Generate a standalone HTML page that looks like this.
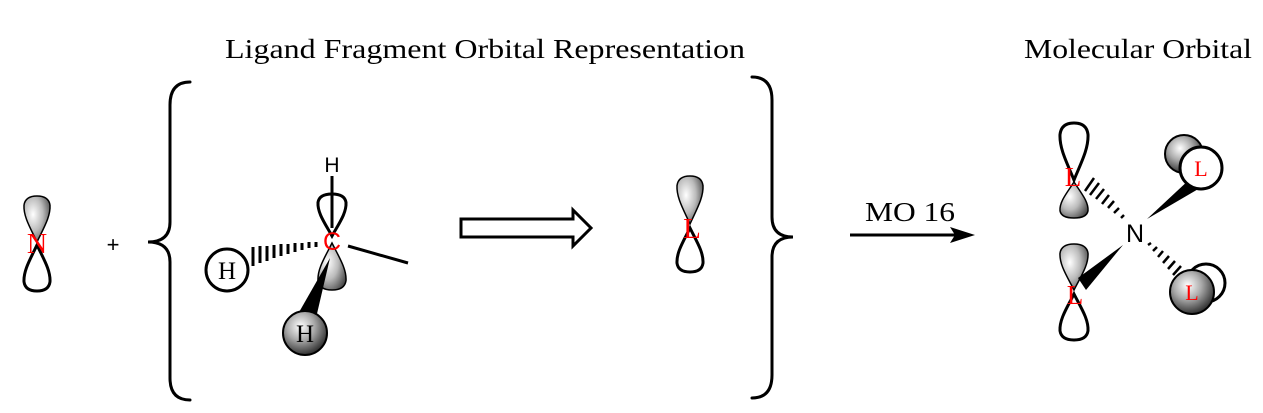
<!DOCTYPE html>
<html><head><meta charset="utf-8"><style>html,body{margin:0;padding:0;background:#fff}svg{display:block}</style></head>
<body>
<svg id="sv" width="1263" height="413" viewBox="0 0 1263 413" xmlns="http://www.w3.org/2000/svg">
<defs>
<radialGradient id="g" cx="0.35" cy="0.4" r="0.75">
<stop offset="0" stop-color="#fff"/><stop offset="0.5" stop-color="#bbb"/><stop offset="1" stop-color="#444"/>
</radialGradient>
<radialGradient id="s" cx="0.4" cy="0.35" r="0.7">
<stop offset="0" stop-color="#fff"/><stop offset="0.45" stop-color="#aaa"/><stop offset="1" stop-color="#222"/>
</radialGradient>
</defs>
<g font-family="Liberation Serif, serif" fill="#000">
<text x="225" y="58" font-size="27" textLength="520" lengthAdjust="spacingAndGlyphs">Ligand Fragment Orbital Representation</text>
<text x="1024" y="58" font-size="27" textLength="228" lengthAdjust="spacingAndGlyphs">Molecular Orbital</text>
<text x="865" y="221" font-size="27" textLength="90" lengthAdjust="spacingAndGlyphs">MO 16</text>
</g>
<g stroke="#000" stroke-width="3" fill="none" stroke-linecap="round">
<path d="M190,82 Q170,82 170,105 L170,222 Q170,242 148,242 Q170,242 170,262 L170,378 Q170,400 190,400"/>
<path d="M752,77 Q772,77 772,100 L772,217 Q772,237 793,237 Q772,237 772,257 L772,375 Q772,398 752,398"/>
</g>
<g id="lobes"></g>
<text x="37" y="253" font-family="Liberation Serif, serif" font-size="28" fill="red" text-anchor="middle">N</text>
<text x="113" y="252" font-family="Liberation Sans, sans-serif" font-size="22" text-anchor="middle">+</text>
<text x="332" y="172" font-family="Liberation Sans, sans-serif" font-size="21" text-anchor="middle">H</text>
<line x1="332" y1="176" x2="332" y2="228" stroke="#000" stroke-width="3"/>
<line x1="348" y1="246" x2="408" y2="263" stroke="#000" stroke-width="3"/>
<g stroke="#000" stroke-width="3">
<line x1="316" y1="242" x2="316" y2="247"/><line x1="309" y1="242" x2="309" y2="248"/><line x1="302" y1="243" x2="302" y2="250"/>
<line x1="295" y1="243" x2="295" y2="252"/><line x1="288" y1="244" x2="288" y2="254"/><line x1="281" y1="244" x2="281" y2="256"/>
<line x1="274" y1="245" x2="274" y2="258"/><line x1="267" y1="246" x2="267" y2="261"/><line x1="260" y1="246" x2="260" y2="263"/><line x1="253" y1="247" x2="253" y2="266"/>
</g>
<circle cx="227" cy="270" r="21" fill="#fff" stroke="#000" stroke-width="3"/>
<text x="227" y="279" font-family="Liberation Serif, serif" font-size="25" text-anchor="middle">H</text>
<polygon points="330,258 316,318 298,314" fill="#000"/>
<circle cx="305" cy="333" r="22" fill="url(#s)" stroke="#000" stroke-width="2"/>
<text x="305" y="342" font-family="Liberation Serif, serif" font-size="25" text-anchor="middle">H</text>
<text x="332" y="250" font-family="Liberation Sans, sans-serif" font-size="25" fill="red" text-anchor="middle">C</text>
<path d="M461,219 L573,219 L573,210 L591,228 L573,246 L573,237 L461,237Z" fill="#fff" stroke="#000" stroke-width="3"/>
<text x="692" y="238" font-family="Liberation Serif, serif" font-size="29" fill="red" text-anchor="middle">L</text>
<line x1="850" y1="235" x2="955" y2="235" stroke="#000" stroke-width="3"/>
<polygon points="975,235 950,227 955,235 950,243" fill="#000"/>
<text x="1135" y="242" font-family="Liberation Sans, sans-serif" font-size="25" text-anchor="middle">N</text>
<g stroke="#000" stroke-width="2.5">
<line x1="1121" y1="218" x2="1124" y2="215"/><line x1="1114" y1="213" x2="1119" y2="208"/><line x1="1108" y1="208" x2="1114" y2="201"/>
<line x1="1102" y1="204" x2="1109" y2="195"/><line x1="1096" y1="199" x2="1104" y2="189"/><line x1="1090" y1="195" x2="1099" y2="183"/><line x1="1085" y1="191" x2="1094" y2="178"/>
</g>
<text x="1073" y="186" font-family="Liberation Serif, serif" font-size="27" fill="red" text-anchor="middle">L</text>
<circle cx="1184" cy="154" r="19" fill="url(#s)" stroke="#000" stroke-width="2"/>
<polygon points="1147,219 1191,178 1200,188" fill="#000"/>
<circle cx="1201" cy="168" r="21" fill="#fff" stroke="#000" stroke-width="3"/>
<text x="1201" y="176" font-family="Liberation Serif, serif" font-size="22" fill="red" text-anchor="middle">L</text>
<circle cx="1206" cy="283" r="19" fill="#fff" stroke="#000" stroke-width="3"/>
<g stroke="#000" stroke-width="2.5">
<line x1="1148" y1="245" x2="1151" y2="243"/><line x1="1153" y1="251" x2="1157" y2="247"/><line x1="1158" y1="257" x2="1163" y2="251"/>
<line x1="1163" y1="263" x2="1169" y2="256"/><line x1="1168" y1="269" x2="1175" y2="261"/><line x1="1173" y1="275" x2="1181" y2="266"/>
</g>
<circle cx="1192" cy="292" r="22" fill="url(#s)" stroke="#000" stroke-width="2"/>
<text x="1192" y="300" font-family="Liberation Serif, serif" font-size="22" fill="red" text-anchor="middle">L</text>
<polygon points="1123,245 1078,278 1086,290" fill="#000"/>
<text x="1075" y="304" font-family="Liberation Serif, serif" font-size="27" fill="red" text-anchor="middle">L</text>
<script>
(function(){
var g=document.getElementById('lobes');
function lobe(x,y0,y1,hw,shaded){
 var d=y1-y0;
 var p='M'+x+','+y0+' C'+(x-hw*0.5)+','+(y0+0.3*d)+' '+(x-hw*1.05)+','+(y0+0.55*d)+' '+(x-hw)+','+(y0+0.8*d)+
 ' Q'+(x-hw*0.9)+','+y1+' '+x+','+y1+' Q'+(x+hw*0.9)+','+y1+' '+(x+hw)+','+(y0+0.8*d)+
 ' C'+(x+hw*1.05)+','+(y0+0.55*d)+' '+(x+hw*0.5)+','+(y0+0.3*d)+' '+x+','+y0+' Z';
 var e=document.createElementNS('http://www.w3.org/2000/svg','path');
 e.setAttribute('d',p);
 e.setAttribute('fill',shaded?'url(#g)':'none');
 e.setAttribute('stroke','#000');
 e.setAttribute('stroke-width',shaded?'1.5':'3');
 g.appendChild(e);
}
lobe(37,242,196,13,true); lobe(37,245,291,13,false);
lobe(332,236,194,14,false); lobe(332,243,290,14,true);
lobe(690,224,176,13,true); lobe(690,228,272,13,false);
lobe(1074,180,123,14,false); lobe(1074,182,218,14,true);
lobe(1074,290,244,14,true); lobe(1074,294,340,14,false);
})();
</script>
</svg>
</body></html>
